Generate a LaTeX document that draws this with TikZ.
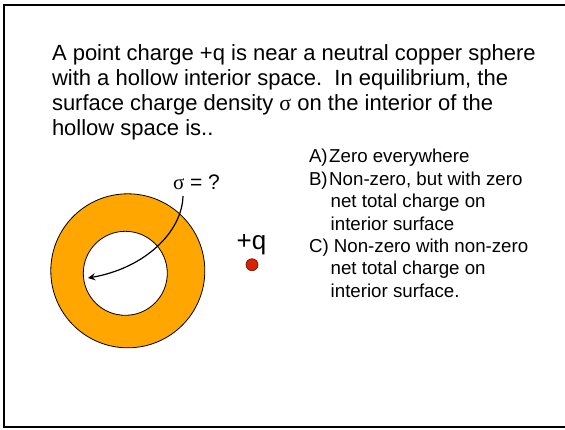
\documentclass[tikz,border=0pt]{standalone}
\usepackage{fontspec}
\setmainfont{Liberation Sans}
\newfontfamily\greekfont{Liberation Serif}
\usetikzlibrary{arrows, positioning}
\definecolor{shellorange}{RGB}{255,166,0}
\definecolor{chargered}{RGB}{218,34,0}

\begin{document}
\begin{tikzpicture}[
    x=0.5pt, y=-0.5pt,
    every node/.style={inner sep=0pt, outer sep=0pt, align=left},
    question/.style={anchor=base west, font=\fontsize{11}{12.5}\selectfont},
    answer/.style={anchor=base west, font=\fontsize{9.35}{11.2}\selectfont},
    sigmalabel/.style={anchor=base west, font=\fontsize{10.5}{12}\selectfont},
    chargelabel/.style={anchor=base, font=\fontsize{13}{15}\selectfont},
    shell/.style={draw=black, line width=0.4pt, fill=shellorange, even odd rule},
    pointcharge/.style={circle, draw=black!60!chargered, fill=chargered, minimum size=6pt, line width=0.3pt},
    arrow/.style={semithick, ->, >=stealth}
]
\useasboundingbox (0,0) rectangle (565,429);

% slide frame (right edge runs off the page)
\draw[line width=1pt] (4,5) rectangle (570,427);

% question text (base = last line)
\node[question] (question) at (52,135) {A point charge +q is near a neutral copper sphere\\
with a hollow interior space.\ \ In equilibrium, the\\
surface charge density {\greekfont σ} on the interior of the\\
hollow space is..};

% answer choices (base = last line)
\node[answer] (ansA) at (309,162.5) {\makebox[1.08em][l]{A)}Zero everywhere};
\node[answer] (ansB) at (309,230) {\makebox[1.08em][l]{B)}Non-zero, but with zero\\
\hspace*{1.16em}net total charge on\\
\hspace*{1.16em}interior surface};
\node[answer] (ansC) at (309,297) {C) Non-zero with non-zero\\
\hspace*{1.16em}net total charge on\\
\hspace*{1.16em}interior surface.};

% hollow copper sphere
\coordinate (outer) at (127.8,270.8);
\coordinate (inner) at (125.3,273.3);
\draw[shell] (outer) circle (77) (inner) circle (42);

% point charge
\node[pointcharge] (charge) at (252,264.7) {};
\node[chargelabel] (qlabel) at (251.5,249.3) {+q};

% sigma label and arrow into the cavity
\node[sigmalabel] (sigma) at (173,189) {{\greekfont σ} = ?};
\coordinate (tail) at (183,196);
\coordinate (tip) at (88,278);
\draw[arrow] (tail) .. controls (182,232) and (145,268) .. (tip);

\end{tikzpicture}
\end{document}
